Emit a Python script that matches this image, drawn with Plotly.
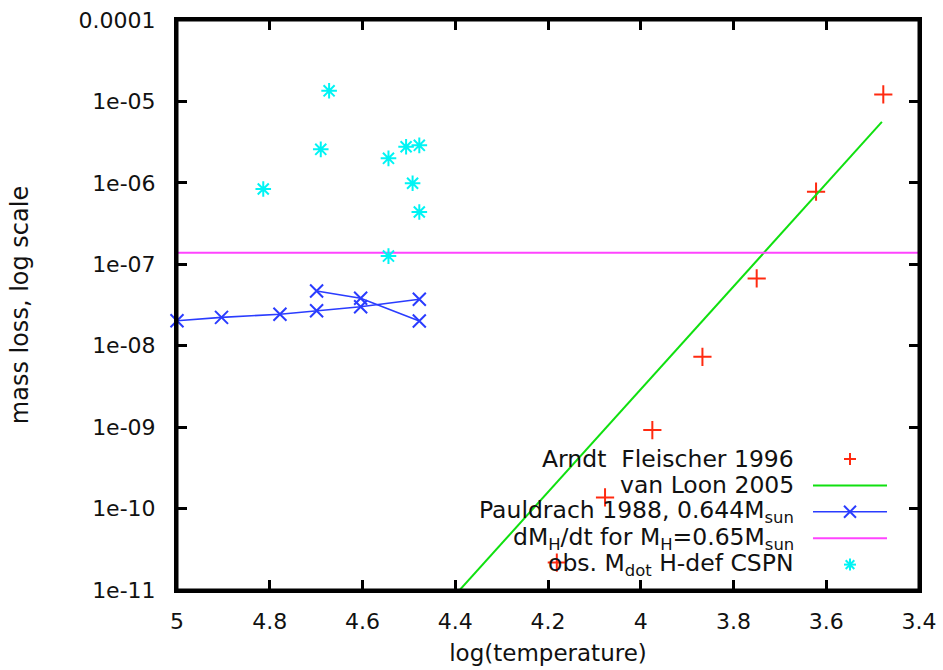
import plotly.graph_objects as go

# ---------------- data ----------------
arndt_logT = [3.477, 3.622, 3.750, 3.867, 3.975, 4.077, 4.181]
arndt_mdot = [1.22e-5, 7.8e-7, 6.7e-8, 7.3e-9, 9.2e-10, 1.37e-10, 2.17e-11]

vanloon_logT = [3.48, 4.40]
vanloon_mdot = [5.6e-6, 8.7e-12]

pauldrach_logT = [5.0, 4.904, 4.778, 4.699, 4.604, 4.4775, None, 4.699, 4.604, 4.4775]
pauldrach_mdot = [2.03e-8, 2.23e-8, 2.43e-8, 2.69e-8, 3.01e-8, 3.72e-8, None, 4.70e-8, 3.82e-8, 2.01e-8]

dmh_logT = [5.0, 3.4]
dmh_mdot = [1.39e-7, 1.39e-7]

obs_logT = [4.814, 4.672, 4.690, 4.544, 4.506, 4.4775, 4.492, 4.4775, 4.544]
obs_mdot = [8.4e-7, 1.35e-5, 2.58e-6, 2.0e-6, 2.78e-6, 2.89e-6, 9.9e-7, 4.39e-7, 1.26e-7]

x_tickvals = [5, 4.8, 4.6, 4.4, 4.2, 4.0, 3.8, 3.6, 3.4]
x_ticktext = ["5", "4.8", "4.6", "4.4", "4.2", "4", "3.8", "3.6", "3.4"]
y_tickvals = [1e-4, 1e-5, 1e-6, 1e-7, 1e-8, 1e-9, 1e-10, 1e-11]
y_ticktext = ["0.0001", "1e-05", "1e-06", "1e-07", "1e-08", "1e-09", "1e-10", "1e-11"]
y_minor = [m * 10.0 ** e for e in range(-11, -4) for m in (2, 5, 8)]

legend_names = [
    "Arndt  Fleischer 1996",
    "van Loon 2005",
    "Pauldrach 1988, 0.644M<sub>sun</sub>",
    "dM<sub>H</sub>/dt for M<sub>H</sub>=0.65M<sub>sun</sub>",
    "obs. M<sub>dot</sub> H-def CSPN",
]

# ---------------- styling ----------------
RED = "#ff2a10"
GREEN = "#10e010"
BLUE = "#2a3cff"
MAGENTA = "#ff44ff"
CYAN = "#00f4f4"
FONT = "DejaVu Sans"
TXT = "#111111"

W, H = 943, 670
ML, MR, MT, MB = 177, 24, 20, 80
PW, PH = W - ML - MR, H - MT - MB

fig = go.Figure()
fig.add_trace(go.Scatter(x=arndt_logT, y=arndt_mdot, mode="markers", name=legend_names[0],
                         marker=dict(symbol="cross-thin-open", size=13, color=RED,
                                     line=dict(color=RED, width=2)),
                         cliponaxis=False))
fig.add_trace(go.Scatter(x=vanloon_logT, y=vanloon_mdot, mode="lines", name=legend_names[1],
                         line=dict(color=GREEN, width=2)))
fig.add_trace(go.Scatter(x=pauldrach_logT, y=pauldrach_mdot, mode="lines+markers", name=legend_names[2],
                         line=dict(color=BLUE, width=1.6), connectgaps=False,
                         marker=dict(symbol="x-thin-open", size=13, color=BLUE,
                                     line=dict(color=BLUE, width=2)),
                         cliponaxis=False))
fig.add_trace(go.Scatter(x=dmh_logT, y=dmh_mdot, mode="lines", name=legend_names[3],
                         line=dict(color=MAGENTA, width=2)))
fig.add_trace(go.Scatter(x=obs_logT, y=obs_mdot, mode="markers", name=legend_names[4],
                         marker=dict(symbol="asterisk-open", size=13, color=CYAN,
                                     line=dict(color=CYAN, width=2)),
                         cliponaxis=False))

# ---------------- custom gnuplot-like legend ----------------
LEG_TEXT_X = 796      # px, right edge of legend text
LEG_KEY_X = 850       # px, centre of the key samples
LEG_Y0 = 459          # px, first row centre
LEG_DY = 26.4         # px, row spacing
KEY_HALF = 37         # px, half length of line samples
MK = 6                # px, half size of marker glyphs
LEG_FONT = 23.5


def px2x(px):
    return (px - ML) / PW


def py2y(py):
    return (MT + PH - py) / PH


shapes = []
annotations = []


def seg(xa, ya, x0, y0, x1, y1, color, width=2):
    shapes.append(dict(type="line", xref="paper", yref="paper",
                       xsizemode="pixel", ysizemode="pixel",
                       xanchor=xa, yanchor=ya, x0=x0, x1=x1, y0=y0, y1=y1,
                       line=dict(color=color, width=width)))


for i, name in enumerate(legend_names):
    ry = py2y(LEG_Y0 + i * LEG_DY)
    annotations.append(dict(xref="paper", yref="paper", x=px2x(LEG_TEXT_X), y=ry,
                            xanchor="right", yanchor="middle", showarrow=False,
                            text=name, font=dict(family=FONT, size=LEG_FONT, color=TXT)))
    kx = px2x(LEG_KEY_X)
    if i == 0:
        seg(kx, ry, -MK, 0, MK, 0, RED)
        seg(kx, ry, 0, -MK, 0, MK, RED)
    elif i == 1:
        seg(kx, ry, -KEY_HALF, 0, KEY_HALF, 0, GREEN)
    elif i == 2:
        seg(kx, ry, -KEY_HALF, 0, KEY_HALF, 0, BLUE, 1.6)
        seg(kx, ry, -MK, -MK, MK, MK, BLUE)
        seg(kx, ry, -MK, MK, MK, -MK, BLUE)
    elif i == 3:
        seg(kx, ry, -KEY_HALF, 0, KEY_HALF, 0, MAGENTA)
    else:
        seg(kx, ry, -MK, 0, MK, 0, CYAN)
        seg(kx, ry, 0, -MK, 0, MK, CYAN)
        seg(kx, ry, -MK * 0.72, -MK * 0.72, MK * 0.72, MK * 0.72, CYAN)
        seg(kx, ry, -MK * 0.72, MK * 0.72, MK * 0.72, -MK * 0.72, CYAN)

# thick gnuplot frame
shapes.append(dict(type="rect", xref="paper", yref="paper", x0=0, x1=1, y0=0, y1=1,
                   line=dict(color="black", width=3), layer="above"))

axis_common = dict(showline=True, linecolor="black", linewidth=3, mirror="ticks",
                   ticks="inside", ticklen=10, tickwidth=2.5, tickcolor="black",
                   showgrid=False, zeroline=False, automargin=False,
                   tickfont=dict(family=FONT, size=22, color=TXT))

fig.update_layout(
    width=W, height=H, autosize=False,
    margin=dict(l=ML, r=MR, t=MT, b=MB, pad=0),
    paper_bgcolor="white", plot_bgcolor="white",
    showlegend=False,
    font=dict(family=FONT, size=22, color=TXT),
    shapes=shapes, annotations=annotations,
    xaxis=dict(range=[5, 3.4], tickmode="array", tickvals=x_tickvals, ticktext=x_ticktext,
               ticklabelstandoff=10,
               title=dict(text="log(temperature)", font=dict(family=FONT, size=23, color=TXT), standoff=12),
               **axis_common),
    yaxis=dict(type="log", range=[-11, -4], tickmode="array", tickvals=y_tickvals, ticktext=y_ticktext,
               ticklabelstandoff=14,
               title=dict(text="mass loss, log scale", font=dict(family=FONT, size=24, color=TXT), standoff=44),
               **axis_common),
    yaxis2=dict(type="log", range=[-11, -4], overlaying="y", anchor="x", side="left",
                tickmode="array", tickvals=y_minor, showticklabels=False, automargin=False,
                ticks="inside", ticklen=5, tickwidth=2.5, tickcolor="black", mirror="ticks",
                showline=False, showgrid=False, zeroline=False),
)

fig.write_html("out.html", config={"displayModeBar": False})
